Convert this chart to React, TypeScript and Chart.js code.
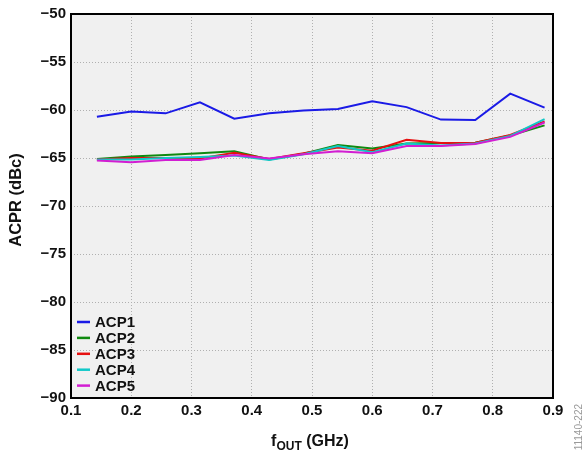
import React, { useEffect, useRef } from "react";
import { Chart, registerables } from "chart.js";

Chart.register(...registerables);

const freqGHz = [0.143, 0.2, 0.257, 0.314, 0.371, 0.429, 0.486, 0.543, 0.6, 0.657, 0.714, 0.771, 0.829, 0.886];
const acp1 = [-60.7, -60.15, -60.35, -59.2, -60.9, -60.35, -60.05, -59.9, -59.1, -59.7, -61.0, -61.05, -58.3, -59.75];
const acp2 = [-65.1, -64.85, -64.7, -64.5, -64.3, -65.15, -64.55, -63.65, -64.0, -63.5, -63.45, -63.4, -62.65, -61.6];
const acp3 = [-65.15, -65.0, -65.0, -65.05, -64.45, -65.1, -64.5, -63.9, -64.25, -63.1, -63.45, -63.4, -62.6, -61.2];
const acp4 = [-65.15, -65.15, -65.0, -64.9, -64.75, -65.2, -64.6, -63.75, -64.4, -63.5, -63.7, -63.5, -62.7, -60.95];
const acp5 = [-65.25, -65.45, -65.2, -65.2, -64.7, -65.05, -64.6, -64.3, -64.5, -63.75, -63.75, -63.55, -62.8, -61.3];

const seriesNames = ["ACP1", "ACP2", "ACP3", "ACP4", "ACP5"];
const seriesColors = ["#1a1ae6", "#108a10", "#e61010", "#10c8c8", "#d21ed2"];
const seriesValues = [acp1, acp2, acp3, acp4, acp5];

const xTicks = [0.1, 0.2, 0.3, 0.4, 0.5, 0.6, 0.7, 0.8, 0.9];
const yTicks = [-50, -55, -60, -65, -70, -75, -80, -85, -90];

const FONT = "'Liberation Sans', Arial, sans-serif";

const framePlugin = {
  id: "frame",
  beforeDraw(chart: any) {
    const { ctx, chartArea: a } = chart;
    ctx.save();
    ctx.fillStyle = "#f0f0f0";
    ctx.fillRect(a.left, a.top, a.right - a.left, a.bottom - a.top);
    ctx.restore();
  },
  afterDraw(chart: any) {
    const { ctx, chartArea: a } = chart;
    ctx.save();
    ctx.strokeStyle = "#000";
    ctx.lineWidth = 2;
    ctx.strokeRect(a.left, a.top, a.right - a.left, a.bottom - a.top);

    // legend
    ctx.font = `bold 15px ${FONT}`;
    ctx.textBaseline = "middle";
    ctx.textAlign = "left";
    const lx = a.left + 6;
    let ly = 322;
    seriesNames.forEach((name, i) => {
      ctx.strokeStyle = seriesColors[i];
      ctx.lineWidth = 2.5;
      ctx.beginPath();
      ctx.moveTo(lx, ly);
      ctx.lineTo(lx + 13, ly);
      ctx.stroke();
      ctx.fillStyle = "#111";
      ctx.fillText(name, lx + 18, ly + 1);
      ly += 15.9;
    });

    // y title
    ctx.save();
    ctx.translate(16, 200);
    ctx.rotate(-Math.PI / 2);
    ctx.textAlign = "center";
    ctx.textBaseline = "middle";
    ctx.fillStyle = "#111";
    ctx.font = `bold 16.5px ${FONT}`;
    ctx.fillText("ACPR (dBc)", 0, 0);
    ctx.restore();

    // x title with subscript
    ctx.fillStyle = "#111";
    ctx.textBaseline = "alphabetic";
    const big = `bold 16px ${FONT}`;
    const small = `bold 12px ${FONT}`;
    ctx.font = big;
    const wF = ctx.measureText("f").width;
    const wRest = ctx.measureText(" (GHz)").width;
    ctx.font = small;
    const wSub = ctx.measureText("OUT").width;
    const total = wF + wSub + wRest;
    let x = 310 - total / 2;
    const base = 446;
    ctx.font = big;
    ctx.textAlign = "left";
    ctx.fillText("f", x, base);
    x += wF;
    ctx.font = small;
    ctx.fillText("OUT", x, base + 4);
    x += wSub;
    ctx.font = big;
    ctx.fillText(" (GHz)", x, base);

    // side code
    ctx.save();
    ctx.translate(579, 404);
    ctx.rotate(-Math.PI / 2);
    ctx.textAlign = "right";
    ctx.textBaseline = "middle";
    ctx.fillStyle = "#9a9a9a";
    ctx.font = `10px ${FONT}`;
    ctx.fillText("11140-222", 0, 0);
    ctx.restore();

    ctx.restore();
  },
};

export default function App() {
  const ref = useRef<HTMLCanvasElement | null>(null);

  useEffect(() => {
    if (!ref.current) return;
    const chart = new Chart(ref.current, {
      type: "line",
      data: {
        datasets: seriesNames.map((name, i) => ({
          label: name,
          data: freqGHz.map((f, j) => ({ x: f, y: seriesValues[i][j] })),
          borderColor: seriesColors[i],
          backgroundColor: seriesColors[i],
          borderWidth: 2,
          pointRadius: 0,
          tension: 0,
          fill: false,
          order: seriesNames.length - 1 - i,
        })),
      },
      options: {
        responsive: false,
        animation: false,
        layout: { padding: { top: 12, right: 32, left: 0, bottom: 0 } },
        plugins: { legend: { display: false }, tooltip: { enabled: false } },
        scales: {
          x: {
            type: "linear",
            min: 0.1,
            max: 0.9,
            afterBuildTicks: (s: any) => {
              s.ticks = xTicks.map((v) => ({ value: v }));
            },
            afterFit: (s: any) => {
              s.height = 55;
            },
            ticks: {
              padding: 4,
              color: "#111",
              font: { family: FONT, size: 15, weight: "bold" },
              callback: (v: any) => Number(v).toFixed(1),
              maxRotation: 0,
            },
            grid: { color: "#b0b0b0", lineWidth: 1, drawTicks: false },
            border: { display: false, dash: [1, 2] },
          },
          y: {
            type: "linear",
            min: -90,
            max: -50,
            afterBuildTicks: (s: any) => {
              s.ticks = yTicks.map((v) => ({ value: v }));
            },
            afterFit: (s: any) => {
              s.width = 71;
            },
            ticks: {
              padding: 5,
              color: "#111",
              font: { family: FONT, size: 15, weight: "bold" },
              callback: (v: any) => (v < 0 ? "\u2212" + Math.abs(v) : String(v)),
            },
            grid: { color: "#b0b0b0", lineWidth: 1, drawTicks: false },
            border: { display: false, dash: [1, 2] },
          },
        },
      },
      plugins: [framePlugin],
    });
    return () => chart.destroy();
  }, []);

  return (
    <div style={{ position: "absolute", left: 0, top: 0, width: 585, height: 453, background: "#fff" }}>
      <canvas ref={ref} width={585} height={453} />
    </div>
  );
}
